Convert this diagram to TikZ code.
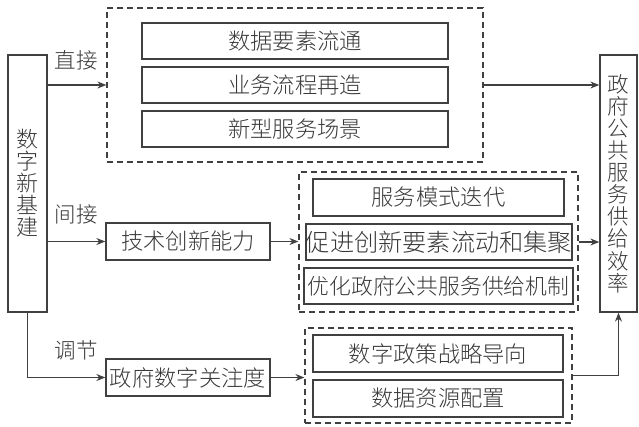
\documentclass[tikz,border=0pt]{standalone}
\usepackage{fontspec}
\setmainfont{Noto Sans CJK SC Light}
\usetikzlibrary{arrows.meta,calc}
\definecolor{ln}{HTML}{404040}
\definecolor{tx}{HTML}{383838}
\tikzset{
  box/.style={draw=ln,line width=1.3pt,rectangle,inner sep=0pt,text=tx,font=\fontsize{22.3}{24}\selectfont},
  dbox/.style={draw=ln,line width=1.2pt,rectangle,inner sep=0pt,dash pattern=on 6pt off 4pt},
  vbox/.style={draw=ln,line width=1.3pt,rectangle,inner sep=0pt,text=tx,align=center},
  lab/.style={text=tx,font=\fontsize{21.5}{24}\selectfont,inner sep=0pt},
  arr/.style={draw=ln,line width=1.2pt,-{Stealth[length=9pt,width=7pt]}},
  ln/.style={draw=ln,line width=1.2pt}
}
\begin{document}
\begin{tikzpicture}[x=1pt,y=-1pt]
\useasboundingbox (0,0) rectangle (639,426);
% left & right
\node[vbox,minimum width=39pt,minimum height=257pt,font=\fontsize{22}{22}\selectfont] (lb) at (27.5,183.5) {数\\字\\新\\基\\建};
\node[vbox,minimum width=37pt,minimum height=257pt,font=\fontsize{21.5}{22.1}\selectfont] (rb) at (618.5,183.5) {政\\府\\公\\共\\服\\务\\供\\给\\效\\率};
% top group
\node[dbox,minimum width=376pt,minimum height=154pt] (top) at (295,85) {};
\node[box,minimum width=306pt,minimum height=36pt] (t1) at (295,41) {数据要素流通};
\node[box,minimum width=306pt,minimum height=36pt] (t2) at (295,85) {业务流程再造};
\node[box,minimum width=306pt,minimum height=36pt] (t3) at (295,129) {新型服务场景};
% middle group
\node[dbox,minimum width=279pt,minimum height=140pt] (mid) at (438.5,242) {};
\node[box,minimum width=251pt,minimum height=37pt] (m1) at (438.5,197.5) {服务模式迭代};
\node[box,minimum width=252pt,minimum height=36pt,font=\fontsize{24.2}{26}\selectfont] (m2) at (439,242) {促进创新要素流动和集聚};
\node[box,minimum width=269pt,minimum height=36pt,font=\fontsize{21.8}{24}\selectfont] (m3) at (438.5,286) {优化政府公共服务供给机制};
\node[box,minimum width=164pt,minimum height=37pt] (tech) at (188,241.5) {技术创新能力};
% bottom group
\node[dbox,minimum width=267pt,minimum height=95pt] (bot) at (438.5,375.5) {};
\node[box,minimum width=250pt,minimum height=37pt] (b1) at (438,353.5) {数字政策战略导向};
\node[box,minimum width=250pt,minimum height=37pt] (b2) at (438,398.5) {数据资源配置};
\node[box,minimum width=164pt,minimum height=37pt] (att) at (188,377.5) {政府数字关注度};
% labels
\node[lab] (l1) at (76,60) {直接};
\node[lab] (l2) at (76,214) {间接};
\node[lab] (l3) at (76,350) {调节};
% connectors
\draw[arr] (lb.east |- top.west) -- (top.west);
\draw[arr] (top.east) -- (rb.west |- top.east);
\draw[arr] (lb.east |- tech.west) -- (tech.west);
\draw[arr] (tech.east) -- (mid.west |- tech.east);
\draw[arr] (mid.east) -- (rb.west |- mid.east);
\draw[arr] (lb.south) |- (att.west);
\draw[arr] (att.east) -- (bot.west |- att.east);
\draw[arr] (bot.east) -| (rb.south);
\end{tikzpicture}
\end{document}
